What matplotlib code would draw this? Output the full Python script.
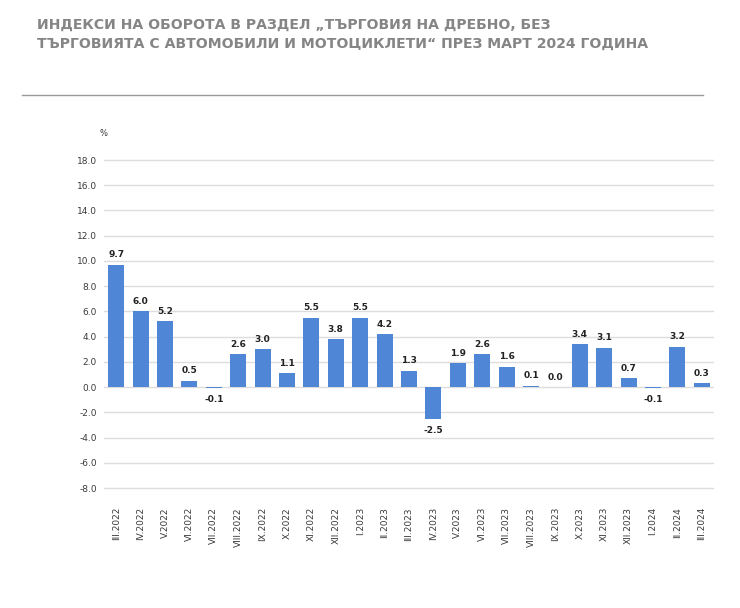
import matplotlib
matplotlib.use('Agg')
import matplotlib.pyplot as plt
import numpy as np

months = ["III.2022", "IV.2022", "V.2022", "VI.2022", "VII.2022", "VIII.2022",
          "IX.2022", "X.2022", "XI.2022", "XII.2022", "I.2023", "II.2023",
          "III.2023", "IV.2023", "V.2023", "VI.2023", "VII.2023", "VIII.2023",
          "IX.2023", "X.2023", "XI.2023", "XII.2023", "I.2024", "II.2024", "III.2024"]
values = [9.7, 6.0, 5.2, 0.5, -0.1, 2.6, 3.0, 1.1, 5.5, 3.8, 5.5, 4.2,
          1.3, -2.5, 1.9, 2.6, 1.6, 0.1, 0.0, 3.4, 3.1, 0.7, -0.1, 3.2, 0.3]
y_ticks = np.arange(-8, 19, 2)

title = ("ИНДЕКСИ НА ОБОРОТА В РАЗДЕЛ „ТЪРГОВИЯ НА ДРЕБНО, БЕЗ\n"
         "ТЪРГОВИЯТА С АВТОМОБИЛИ И МОТОЦИКЛЕТИ“ ПРЕЗ МАРТ 2024 ГОДИНА")

fig = plt.figure(figsize=(7.4, 6.08), dpi=100)
W, H = 740, 608

# title and rule under it
fig.text(37 / W, 1 - 18 / H, title, ha='left', va='top', fontsize=10.1,
         fontweight='bold', color='#858585', family=['Liberation Sans Narrow', 'DejaVu Sans'],
         linespacing=1.4)
fig.add_artist(plt.Line2D([22 / W, 703 / W], [1 - 95 / H, 1 - 95 / H],
                          color='#9a9a9a', lw=1.0))

# a little room above 18 and below -8 so the outer gridlines are drawn whole
pad_px = 0.3 * 328 / 26
ax = fig.add_axes([104 / W, 1 - (488 + pad_px) / H, (714 - 104) / W, (328 + 2 * pad_px) / H])
x = np.arange(len(months))
bars = ax.bar(x, values, width=0.65, color='#4f87d6', zorder=3)

for xi, v in zip(x, values):
    if v < 0:
        ax.annotate(f"{v:.1f}", (xi, v), xytext=(0, -5), textcoords='offset points',
                    ha='center', va='top', fontsize=6.5, fontweight='bold', color='#222222')
    else:
        ax.annotate(f"{v:.1f}", (xi, v), xytext=(0, 4), textcoords='offset points',
                    ha='center', va='bottom', fontsize=6.5, fontweight='bold', color='#222222')

ax.set_xlim(-0.5, len(months) - 0.5)
ax.set_ylim(-8.3, 18.3)
ax.set_yticks(y_ticks)
ax.set_yticklabels([f"{t:.1f}" for t in y_ticks])
ax.set_xticks(x)
ax.set_xticklabels(months, rotation=90)
ax.tick_params(axis='y', length=0, pad=5, labelsize=6.5, labelcolor='#3a3a3a')
ax.tick_params(axis='x', length=0, pad=11, labelsize=6.5, labelcolor='#3a3a3a')
ax.grid(axis='y', color='#dddddd', lw=1.0, zorder=0)
for s in ax.spines.values():
    s.set_visible(False)

fig.text(103 / W, 1 - 133 / H, "%", ha='center', va='center', fontsize=6, color='#333333')

fig.savefig('out.png', dpi=100)
